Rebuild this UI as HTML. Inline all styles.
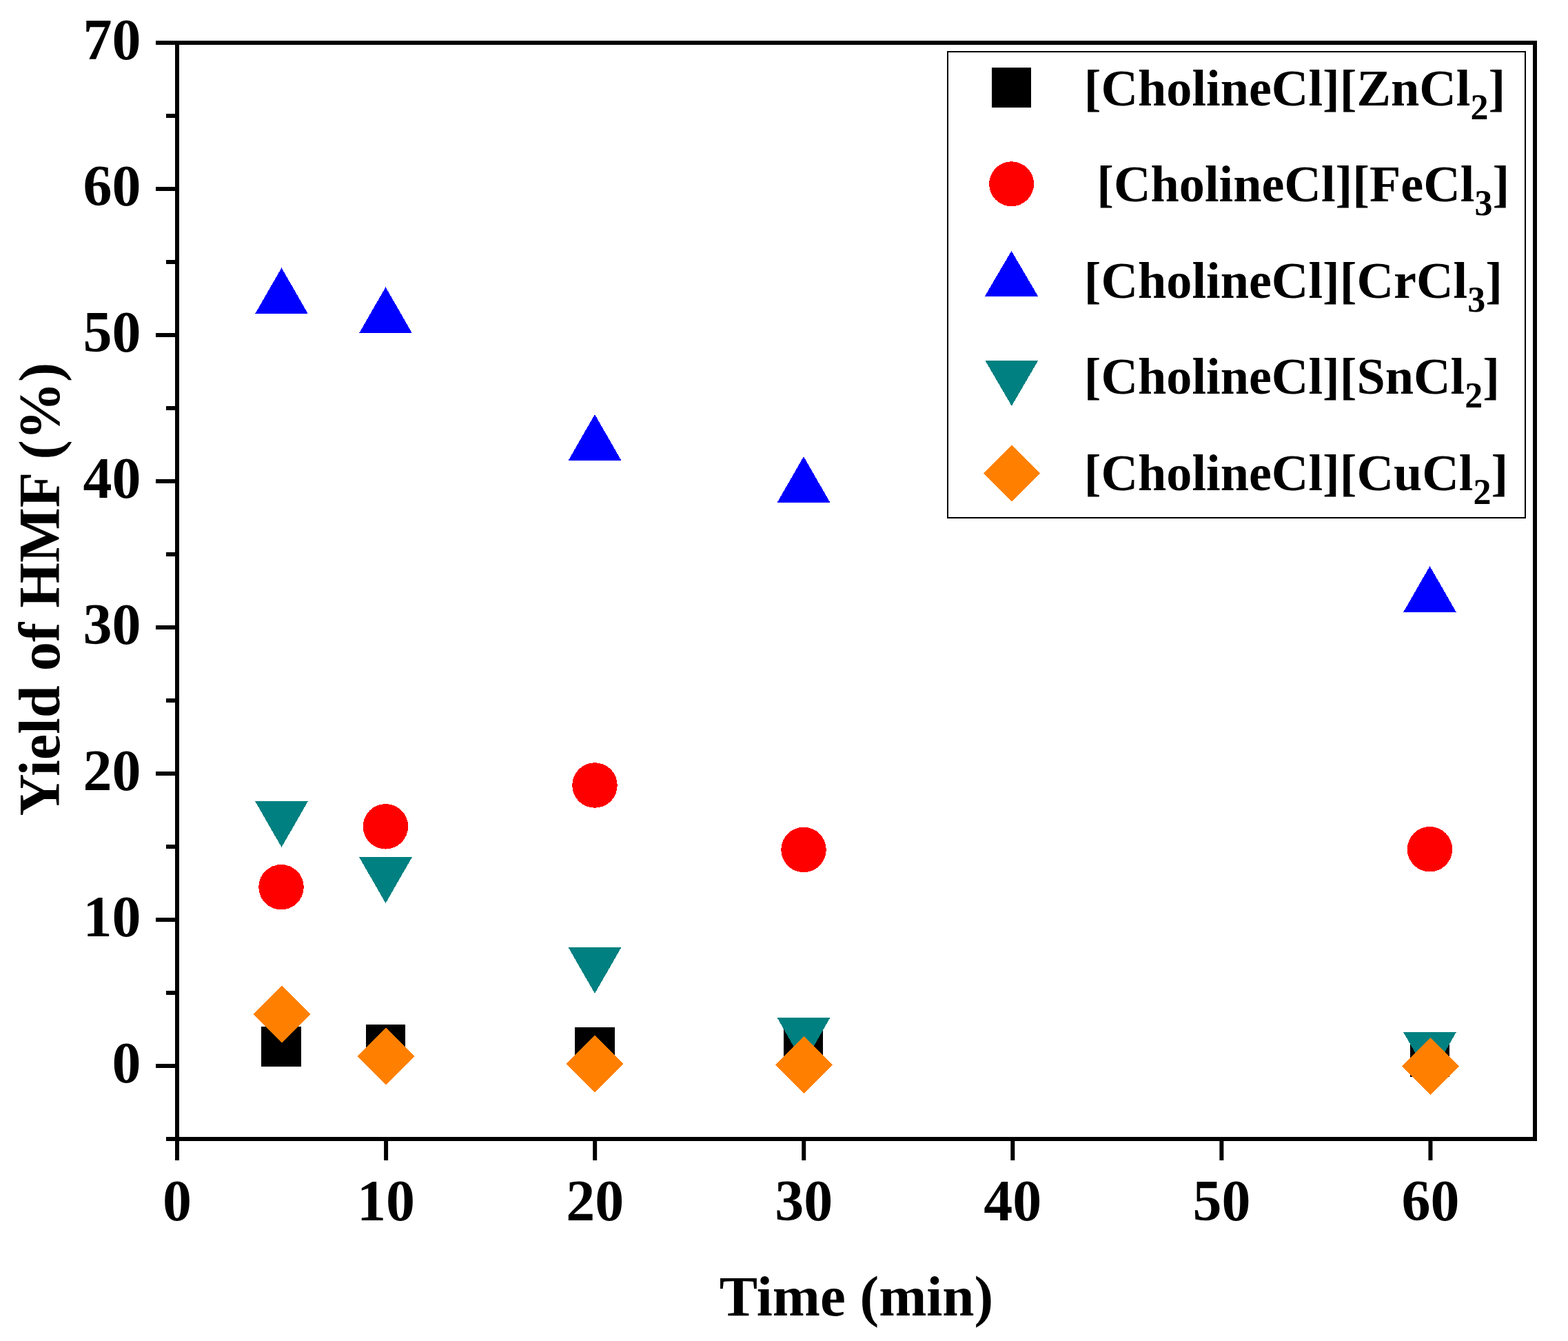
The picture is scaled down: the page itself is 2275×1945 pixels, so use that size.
<!DOCTYPE html>
<html><head><meta charset="utf-8"><title>Yield of HMF vs Time</title>
<style>html,body{margin:0;padding:0;background:#fff;overflow:hidden}svg{display:block}</style>
</head><body>
<svg width="2275" height="1945" viewBox="0 0 2275 1945" font-family="'Liberation Serif', 'Times New Roman', serif" font-weight="bold" fill="#000"><rect x="0" y="0" width="2275" height="1945" fill="#fff"/>
<g stroke="#000" stroke-width="6" stroke-linecap="butt"><rect x="257" y="62" width="1970" height="1590" fill="none" stroke="#000" stroke-width="6"/><line x1="226" y1="1546.0" x2="257" y2="1546.0"/><line x1="226" y1="1334.0" x2="257" y2="1334.0"/><line x1="226" y1="1122.0" x2="257" y2="1122.0"/><line x1="226" y1="910.0" x2="257" y2="910.0"/><line x1="226" y1="698.0" x2="257" y2="698.0"/><line x1="226" y1="486.0" x2="257" y2="486.0"/><line x1="226" y1="274.0" x2="257" y2="274.0"/><line x1="226" y1="62.0" x2="257" y2="62.0"/><line x1="241" y1="1652.0" x2="257" y2="1652.0"/><line x1="241" y1="1440.0" x2="257" y2="1440.0"/><line x1="241" y1="1228.0" x2="257" y2="1228.0"/><line x1="241" y1="1016.0" x2="257" y2="1016.0"/><line x1="241" y1="804.0" x2="257" y2="804.0"/><line x1="241" y1="592.0" x2="257" y2="592.0"/><line x1="241" y1="380.0" x2="257" y2="380.0"/><line x1="241" y1="168.0" x2="257" y2="168.0"/><line x1="257.0" y1="1652" x2="257.0" y2="1683"/><line x1="560.077" y1="1652" x2="560.077" y2="1683"/><line x1="863.154" y1="1652" x2="863.154" y2="1683"/><line x1="1166.231" y1="1652" x2="1166.231" y2="1683"/><line x1="1469.308" y1="1652" x2="1469.308" y2="1683"/><line x1="1772.385" y1="1652" x2="1772.385" y2="1683"/><line x1="2075.462" y1="1652" x2="2075.462" y2="1683"/></g>
<g font-size="84"><text x="204.5" y="1570.4" text-anchor="end">0</text><text x="204.5" y="1358.4" text-anchor="end">10</text><text x="204.5" y="1146.4" text-anchor="end">20</text><text x="204.5" y="934.4" text-anchor="end">30</text><text x="204.5" y="722.4" text-anchor="end">40</text><text x="204.5" y="510.4" text-anchor="end">50</text><text x="204.5" y="298.4" text-anchor="end">60</text><text x="204.5" y="86.4" text-anchor="end">70</text><text x="257.0" y="1769.6" text-anchor="middle">0</text><text x="560.077" y="1769.6" text-anchor="middle">10</text><text x="863.154" y="1769.6" text-anchor="middle">20</text><text x="1166.231" y="1769.6" text-anchor="middle">30</text><text x="1469.308" y="1769.6" text-anchor="middle">40</text><text x="1772.385" y="1769.6" text-anchor="middle">50</text><text x="2075.462" y="1769.6" text-anchor="middle">60</text></g>
<text x="1242.5" y="1907.7" font-size="83" text-anchor="middle">Time (min)</text>
<text transform="translate(86,854.7) rotate(-90)" x="0" y="0" font-size="84.5" text-anchor="middle">Yield of HMF (%)</text>
<g shape-rendering="crispEdges">
<g fill="#000"><rect x="379.25" y="1489.25" width="57.5" height="57.5"/><rect x="530.75" y="1485.55" width="57.5" height="57.5"/><rect x="834.25" y="1489.75" width="57.5" height="57.5"/><rect x="1136.75" y="1486.25" width="57.5" height="57.5"/><rect x="2045.75" y="1504.75" width="57.5" height="57.5"/></g>
<g fill="#ff0000"><circle cx="408" cy="1286.7" r="32.75"/><circle cx="559.4" cy="1198.8" r="32.75"/><circle cx="863" cy="1139" r="32.75"/><circle cx="1166" cy="1232.4" r="32.75"/><circle cx="2074.5" cy="1231.7" r="32.75"/></g>
<g fill="#0000ff"><polygon points="408.5,388.4 447.0,455.4 370.0,455.4"/><polygon points="559.5,416.4 598.0,483.4 521.0,483.4"/><polygon points="863,601 901.5,668 824.5,668"/><polygon points="1166,662.1 1204.5,729.1 1127.5,729.1"/><polygon points="2074.5,821.1 2113.0,888.1 2036.0,888.1"/></g>
<g fill="#008080"><polygon points="370.0,1161.9 447.0,1161.9 408.5,1228.9"/><polygon points="521.0,1243 598.0,1243 559.5,1310"/><polygon points="824.5,1374 901.5,1374 863,1441"/><polygon points="1127.5,1476 1204.5,1476 1166,1543"/><polygon points="2036.0,1496.9 2113.0,1496.9 2074.5,1563.9"/></g>
<g fill="#ff8000"><polygon points="408.5,1429.5 450.0,1471 408.5,1512.5 367.0,1471"/><polygon points="560,1490.5 601.5,1532 560,1573.5 518.5,1532"/><polygon points="863,1501.5 904.5,1543 863,1584.5 821.5,1543"/><polygon points="1166,1503.0 1207.5,1544.5 1166,1586.0 1124.5,1544.5"/><polygon points="2075,1505.0 2116.5,1546.5 2075,1588.0 2033.5,1546.5"/></g>
</g>
<rect x="1375" y="75" width="838" height="676" fill="#fff" stroke="#000" stroke-width="2"/><text x="1572.8" y="152.5" font-size="74.2">[CholineCl][ZnCl<tspan font-size="52" dy="20">2</tspan><tspan dy="-20">]</tspan></text><text x="1591.3" y="292.2" font-size="74.2">[CholineCl][FeCl<tspan font-size="52" dy="20">3</tspan><tspan dy="-20">]</tspan></text><text x="1572.8" y="431.6" font-size="74.2">[CholineCl][CrCl<tspan font-size="52" dy="20">3</tspan><tspan dy="-20">]</tspan></text><text x="1572.8" y="571" font-size="74.2">[CholineCl][SnCl<tspan font-size="52" dy="20">2</tspan><tspan dy="-20">]</tspan></text><text x="1572.8" y="710.5" font-size="74.2">[CholineCl][CuCl<tspan font-size="52" dy="20">2</tspan><tspan dy="-20">]</tspan></text><g shape-rendering="crispEdges"><g fill="#000"><rect x="1438.75" y="98.25" width="57.5" height="57.5"/></g><g fill="#ff0000"><circle cx="1467.6" cy="266.8" r="32.5"/></g><g fill="#0000ff"><polygon points="1467.5,363.9 1506.0,429.5 1429.0,429.5"/></g><g fill="#008080"><polygon points="1429.3,522.8 1506.3,522.8 1467.8,588.8"/></g><g fill="#ff8000"><polygon points="1468,645.55 1508.75,686.3 1468,727.05 1427.25,686.3"/></g></g></svg>
</body></html>
